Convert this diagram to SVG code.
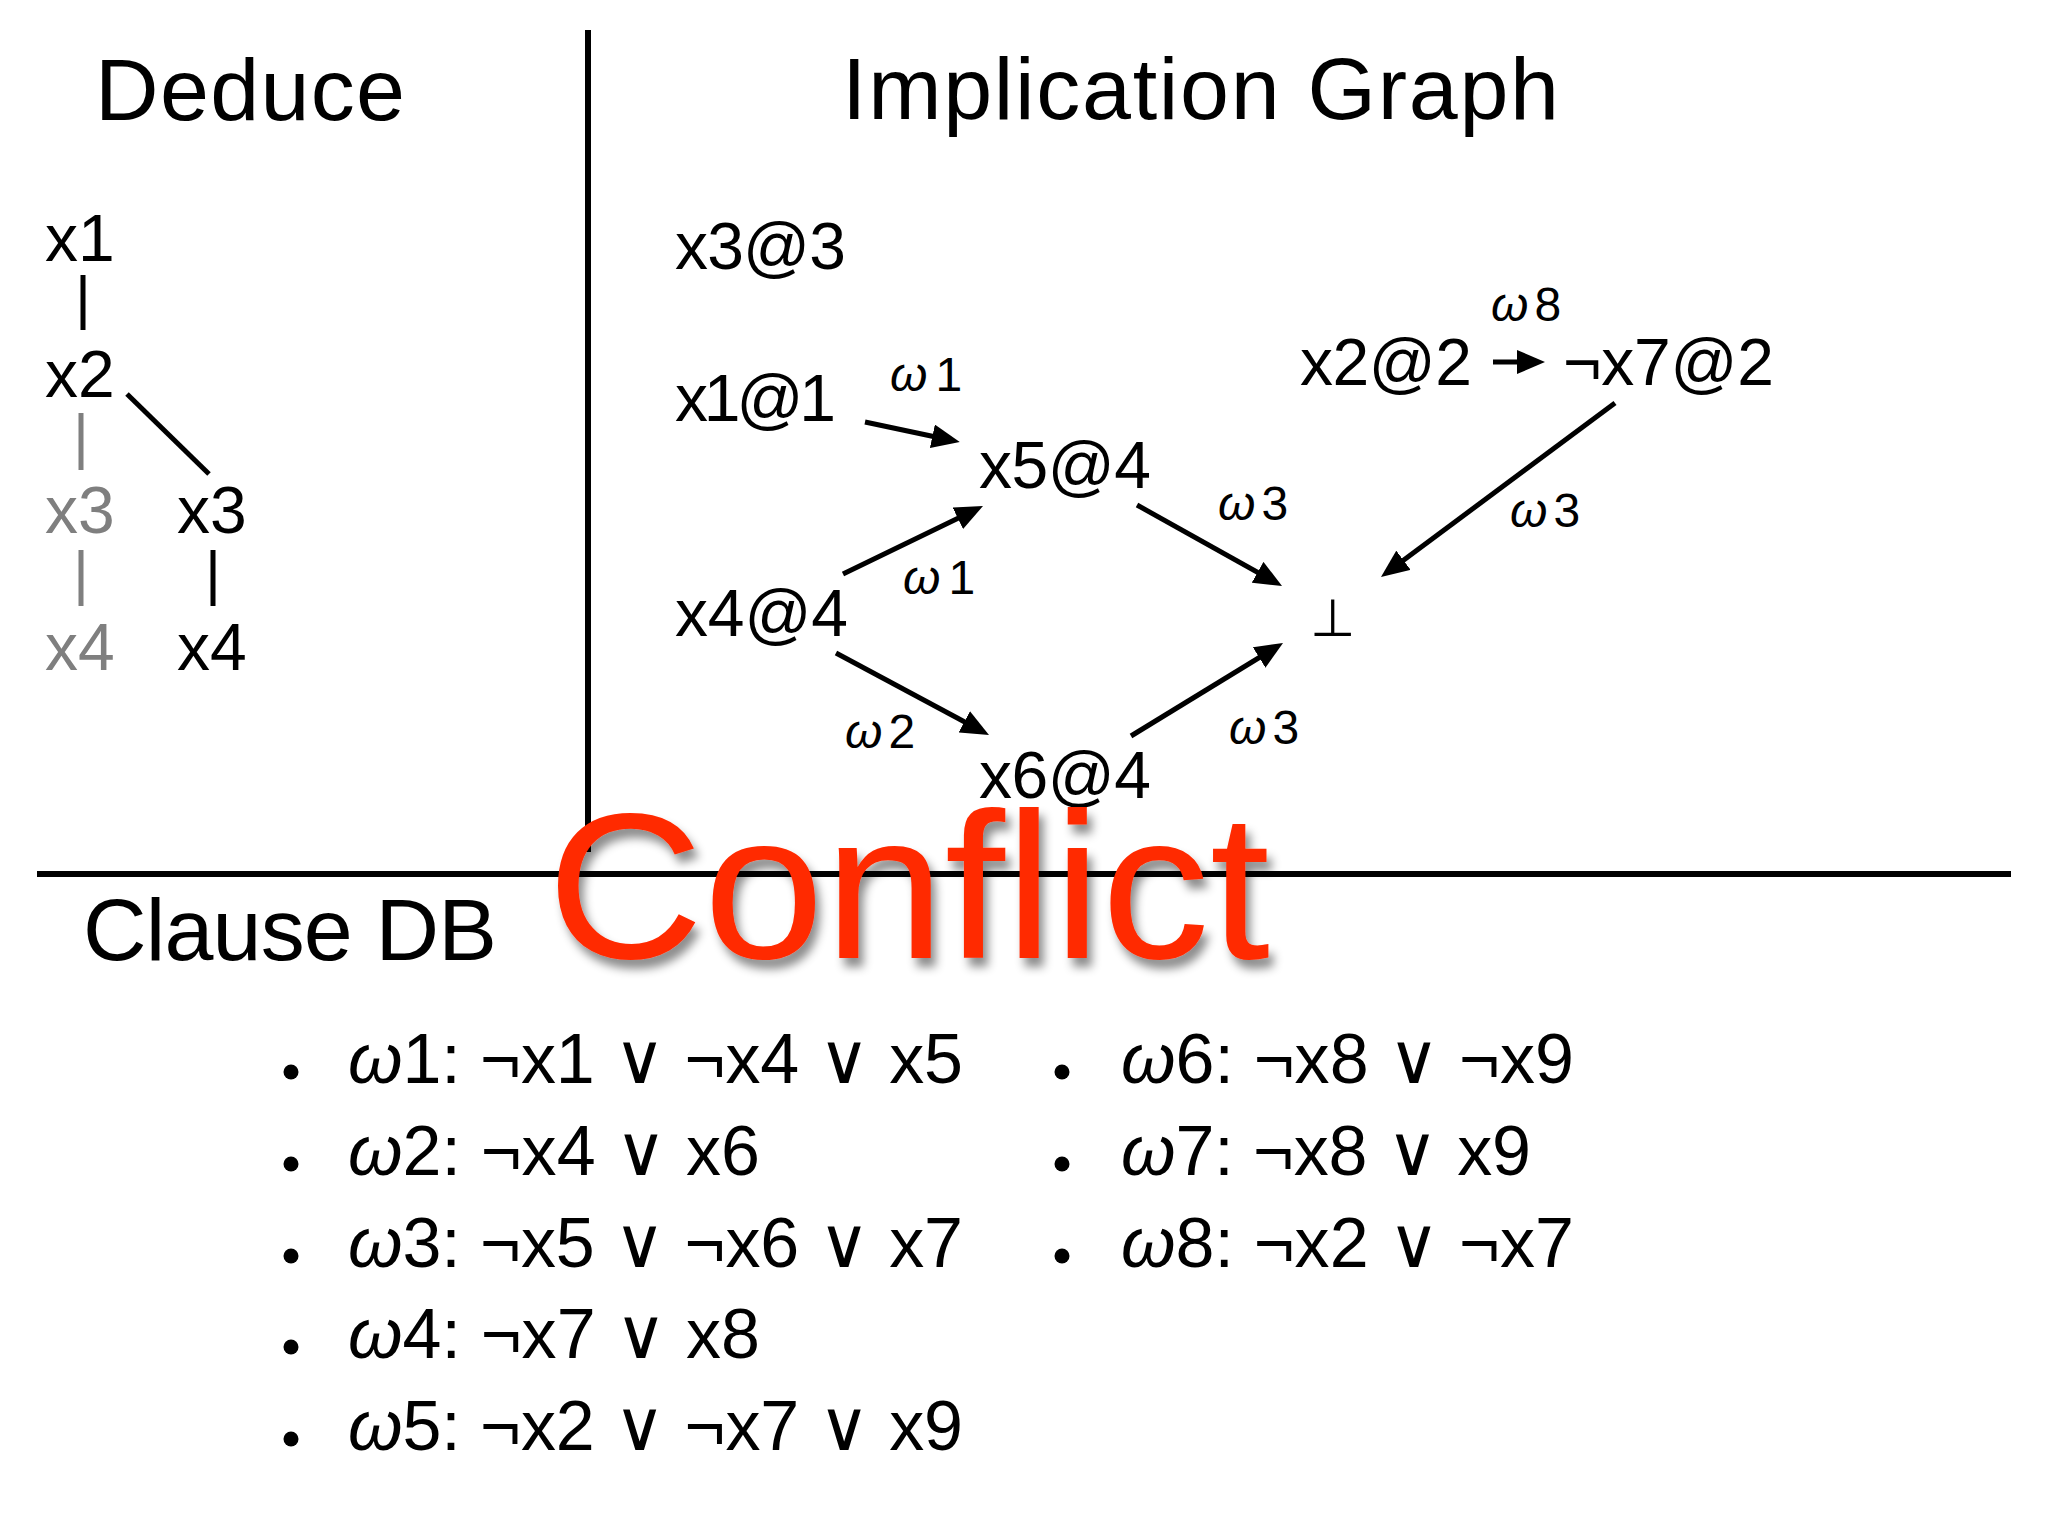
<svg xmlns="http://www.w3.org/2000/svg" width="2048" height="1536" viewBox="0 0 2048 1536">
<defs>
<style>
text{font-family:"Liberation Sans","DejaVu Sans",sans-serif;fill:#000}
.title{font-size:88px}
.node{font-size:66px}
.lbl{font-size:48px}
.cl{font-size:70px}
.gray{fill:#7f7f7f}
.it{font-style:italic}
.edge{stroke:#000;stroke-width:5;fill:none;marker-end:url(#ah)}
.tl{stroke:#000;stroke-width:5}
.tg{stroke:#7f7f7f;stroke-width:5}
.sep{stroke:#000;stroke-width:6}
.conflict{font-size:208px;fill:#FF2A00}
</style>
<marker id="ah" markerUnits="userSpaceOnUse" viewBox="0 0 28 24" refX="18" refY="12" markerWidth="28" markerHeight="24" orient="auto">
<path d="M0,0 L28,12 L0,24 z" fill="#000"/>
</marker>
<filter id="shadow" x="-10%" y="-20%" width="130%" height="150%">
<feDropShadow dx="5" dy="9" stdDeviation="5" flood-color="#000" flood-opacity="0.45"/>
</filter>
</defs>
<rect width="2048" height="1536" fill="#fff"/>

<g id="separators">
<line class="sep" x1="588" y1="30" x2="588" y2="852"/>
<line class="sep" x1="37" y1="874" x2="2011" y2="874"/>
</g>

<g id="titles">
<text class="title" x="95" y="120" textLength="310">Deduce</text>
<text class="title" x="842" y="119" textLength="717">Implication Graph</text>
<text class="title" x="83" y="960" textLength="414">Clause DB</text>
</g>

<g id="deduce-tree">
<g id="t-x1"><text class="node" x="45" y="261">x1</text></g>
<g id="t-x2"><text class="node" x="45" y="397">x2</text></g>
<g id="t-x3g"><text class="node gray" x="45" y="533">x3</text></g>
<g id="t-x4g"><text class="node gray" x="45" y="670">x4</text></g>
<g id="t-x3"><text class="node" x="177" y="533">x3</text></g>
<g id="t-x4"><text class="node" x="177" y="670">x4</text></g>
<g id="tree-lines">
<line class="tl" x1="83" y1="275" x2="83" y2="330"/>
<line class="tg" x1="81" y1="413" x2="81" y2="470"/>
<line class="tl" x1="127" y1="394" x2="209" y2="474"/>
<line class="tg" x1="81" y1="550" x2="81" y2="606"/>
<line class="tl" x1="213" y1="550" x2="213" y2="606"/>
</g>
</g>

<g id="connectors">
<line class="edge" x1="865" y1="422" x2="950" y2="440"/>
<line class="edge" x1="843" y1="574" x2="974" y2="510.4"/>
<line class="edge" x1="1137" y1="505" x2="1273.3" y2="581.1"/>
<line class="edge" x1="836" y1="653" x2="980.2" y2="730.3"/>
<line class="edge" x1="1131" y1="736" x2="1274.5" y2="648.2"/>
<line class="edge" x1="1615" y1="403" x2="1389" y2="571"/>
<line class="edge" x1="1493" y1="362" x2="1535" y2="362"/>
<text class="lbl" x="890" y="391"><tspan class="it">ω</tspan><tspan dx="8">1</tspan></text>
<text class="lbl" x="903" y="594"><tspan class="it">ω</tspan><tspan dx="8">1</tspan></text>
<text class="lbl" x="1218" y="520"><tspan class="it">ω</tspan><tspan dx="6">3</tspan></text>
<text class="lbl" x="845" y="748"><tspan class="it">ω</tspan><tspan dx="6">2</tspan></text>
<text class="lbl" x="1229" y="744"><tspan class="it">ω</tspan><tspan dx="6">3</tspan></text>
<text class="lbl" x="1491" y="321"><tspan class="it">ω</tspan><tspan dx="6">8</tspan></text>
<text class="lbl" x="1510" y="527"><tspan class="it">ω</tspan><tspan dx="6">3</tspan></text>
</g>

<g id="n-x3at3"><text class="node" x="675" y="269" textLength="171">x3@3</text></g>
<g id="n-x1at1"><text class="node" x="675" y="421" textLength="161">x1@1</text></g>
<g id="n-x5at4"><text class="node" x="979" y="488" textLength="172">x5@4</text></g>
<g id="n-x4at4"><text class="node" x="675" y="636" textLength="173">x4@4</text></g>
<g id="n-x6at4"><text class="node" x="979" y="798" textLength="172">x6@4</text></g>
<g id="n-x2at2"><text class="node" x="1300" y="385" textLength="172">x2@2</text></g>
<g id="n-nx7at2"><text class="node" x="1563" y="385" textLength="211">¬x7@2</text></g>
<g id="n-bottom"><text x="1310" y="636" style="font-family:'DejaVu Sans',sans-serif;font-size:52px">⊥</text></g>

<g id="conflict">
<text class="conflict" x="547" y="958" textLength="723" lengthAdjust="spacingAndGlyphs" filter="url(#shadow)">Conflict</text>
</g>

<g id="clause-db">
<g id="bullets">
<circle cx="291" cy="1072" r="7.5"/>
<circle cx="291" cy="1164" r="7.5"/>
<circle cx="291" cy="1256" r="7.5"/>
<circle cx="291" cy="1347" r="7.5"/>
<circle cx="291" cy="1439" r="7.5"/>
<circle cx="1062" cy="1072" r="7.5"/>
<circle cx="1062" cy="1164" r="7.5"/>
<circle cx="1062" cy="1256" r="7.5"/>
</g>
<text class="cl" x="348" y="1083" textLength="615"><tspan class="it">ω</tspan>1: ¬x1 ∨ ¬x4 ∨ x5</text>
<text class="cl" x="348" y="1175" textLength="412"><tspan class="it">ω</tspan>2: ¬x4 ∨ x6</text>
<text class="cl" x="348" y="1267" textLength="615"><tspan class="it">ω</tspan>3: ¬x5 ∨ ¬x6 ∨ x7</text>
<text class="cl" x="348" y="1358" textLength="412"><tspan class="it">ω</tspan>4: ¬x7 ∨ x8</text>
<text class="cl" x="348" y="1450" textLength="615"><tspan class="it">ω</tspan>5: ¬x2 ∨ ¬x7 ∨ x9</text>
<text class="cl" x="1121" y="1083" textLength="453"><tspan class="it">ω</tspan>6: ¬x8 ∨ ¬x9</text>
<text class="cl" x="1121" y="1175" textLength="410"><tspan class="it">ω</tspan>7: ¬x8 ∨ x9</text>
<text class="cl" x="1121" y="1267" textLength="453"><tspan class="it">ω</tspan>8: ¬x2 ∨ ¬x7</text>
</g>
</svg>
